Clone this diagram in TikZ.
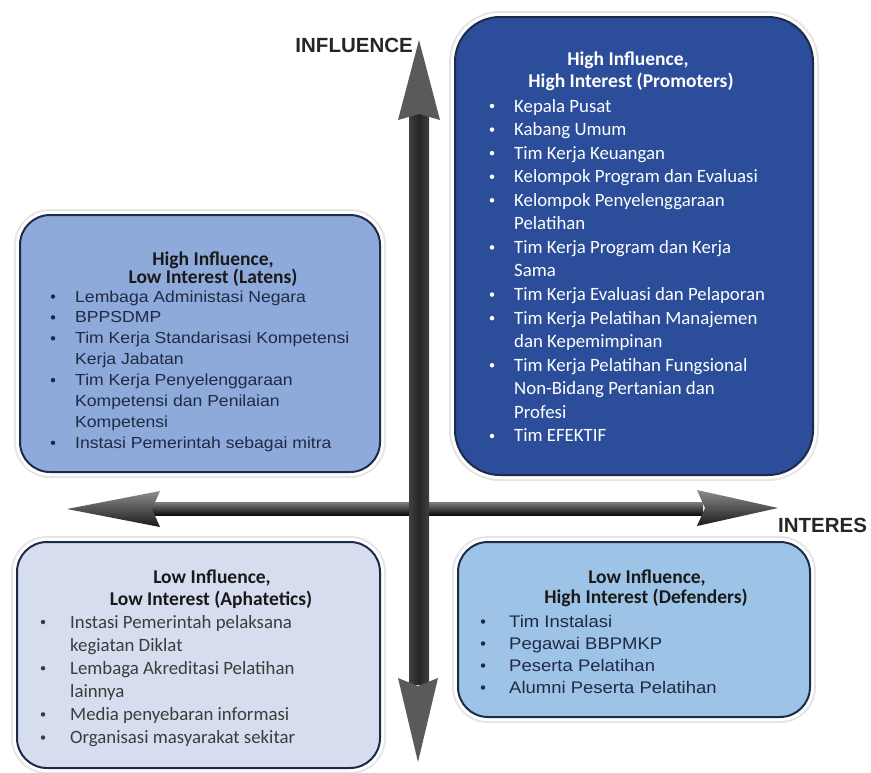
\documentclass[tikz,border=0pt]{standalone}
\usepackage{fontspec}
\setmainfont{Carlito}
\newfontfamily\arialf[FakeStretch=1.1]{Liberation Sans}
\newfontfamily\labelf{Liberation Sans}
\usetikzlibrary{calc}

\definecolor{promfill}{HTML}{2B4D9A}
\definecolor{latfill}{HTML}{8EAADB}
\definecolor{aphfill}{HTML}{D6DDEF}
\definecolor{deffill}{HTML}{9DC3E6}
\definecolor{boxline}{HTML}{1C2B4A}
\definecolor{headgray}{HTML}{5A5A5A}
\definecolor{shaftgray}{HTML}{262626}
\definecolor{darktext}{HTML}{1F2A44}
\definecolor{graytext}{HTML}{3C3C3C}

\tikzset{
  quadbox/.style={draw=boxline, line width=2pt, inner sep=0pt,
    preaction={draw=black!10, line width=12pt},
    preaction={draw=white, line width=8pt}},
  ttl/.style={anchor=base, inner sep=0pt, font=\bfseries\fontsize{19.5}{20}\selectfont},
  item/.style={anchor=base west, inner sep=0pt},
  dot/.style={circle, inner sep=0pt, minimum size=4.5pt},
  axislabel/.style={inner sep=0pt, font=\labelf\bfseries\fontsize{20.5}{22}\selectfont, text=black!85}
}

\begin{document}
\begin{tikzpicture}[x=1pt,y=-1pt]
\useasboundingbox[fill=white] (0,0) rectangle (871,772);

% axes
\coordinate (xL) at (67,509);
\coordinate (xR) at (778,508);
\coordinate (yTop) at (419,40);
\coordinate (yBot) at (418,762);

\shade[top color=black!50, bottom color=black!95] ($(xL)+(85,-7)$) rectangle ($(xR)+(-75,7)$);
\shade[top color=black!45, bottom color=black!90] (xL) -- ++(93,-18) -- ++(-8,18) -- ++(8,18) -- cycle;
\shade[top color=black!45, bottom color=black!90] (xR) -- ++(-81,-18) -- ++(8,18) -- ++(-8,18) -- cycle;

\shade[left color=black!75, right color=black!75, middle color=shaftgray] ($(yTop)+(-10,72)$) rectangle ($(yBot)+(11,-78)$);
\fill[headgray] (yTop) -- ++(-21,80) -- ++(21,-6) -- ++(21,6) -- cycle;
\fill[headgray] (yBot) -- ++(-20,-84) -- ++(20,8) -- ++(20,-8) -- cycle;

\node[axislabel, anchor=base east] (infl) at (413,52) {INFLUENCE};
\node[axislabel, anchor=base west] (intr) at (778,532) {INTERES};

% quadrants
\node[quadbox, fill=latfill, rounded corners=30pt, minimum width=360pt, minimum height=257pt] (lat) at (200,343.5) {};
\node[quadbox, fill=promfill, rounded corners=45pt, minimum width=358pt, minimum height=458pt] (prom) at (634,246) {};
\node[quadbox, fill=aphfill, rounded corners=30pt, minimum width=363pt, minimum height=226pt] (aph) at (198.5,655) {};
\node[quadbox, fill=deffill, rounded corners=30pt, minimum width=352pt, minimum height=175pt] (def) at (634,629.5) {};

% High Influence, Low Interest
\node[ttl, text=black!90] (lat-t1) at (213,265) {High Influence,};
\node[ttl, text=black!90] (lat-t2) at (213,283) {Low Interest (Latens)};
\foreach \b/\t [count=\i from 0] in {1/Lembaga Administasi Negara, 1/BPPSDMP,
    1/Tim Kerja Standarisasi Kompetensi, 0/Kerja Jabatan, 1/Tim Kerja Penyelenggaraan,
    0/Kompetensi dan Penilaian, 0/Kompetensi, 1/Instasi Pemerintah sebagai mitra}{
  \node[item, text=darktext, font=\arialf\fontsize{16}{20}\selectfont] (lat-\i) at (75,302+20.9*\i) {\t};
  \ifnum\b=1 \node[dot, fill=darktext] (lat-b\i) at (53,296.5+20.9*\i) {}; \fi
}

% High Influence, High Interest
\node[ttl, text=white] (prom-t1) at (628,65) {High Influence,};
\node[ttl, text=white] (prom-t2) at (631,87) {High Interest (Promoters)};
\foreach \b/\t [count=\i from 0] in {1/Kepala Pusat, 1/Kabang Umum, 1/Tim Kerja Keuangan,
    1/Kelompok Program dan Evaluasi, 1/Kelompok Penyelenggaraan, 0/Pelatihan,
    1/Tim Kerja Program dan Kerja, 0/Sama, 1/Tim Kerja Evaluasi dan Pelaporan,
    1/Tim Kerja Pelatihan Manajemen, 0/dan Kepemimpinan, 1/Tim Kerja Pelatihan Fungsional,
    0/Non-Bidang Pertanian dan, 0/Profesi, 1/Tim EFEKTIF}{
  \node[item, text=white, font=\fontsize{18.8}{23}\selectfont] (prom-\i) at (514,112+23.57*\i) {\t};
  \ifnum\b=1 \node[dot, fill=white] (prom-b\i) at (492,106+23.57*\i) {}; \fi
}

% Low Influence, Low Interest
\node[ttl, text=black!90] (aph-t1) at (212,583) {Low Influence,};
\node[ttl, text=black!90] (aph-t2) at (211,605) {Low Interest (Aphatetics)};
\foreach \b/\t [count=\i from 0] in {1/Instasi Pemerintah pelaksana, 0/kegiatan Diklat,
    1/Lembaga Akreditasi Pelatihan, 0/lainnya, 1/Media penyebaran informasi,
    1/Organisasi masyarakat sekitar}{
  \node[item, text=graytext, font=\fontsize{18.8}{23}\selectfont] (aph-\i) at (70,628+23.1*\i) {\t};
  \ifnum\b=1 \node[dot, fill=graytext] (aph-b\i) at (43,622+23.1*\i) {}; \fi
}

% Low Influence, High Interest
\node[ttl, text=black!90] (def-t1) at (647,583) {Low Influence,};
\node[ttl, text=black!90] (def-t2) at (646,603) {High Interest (Defenders)};
\foreach \t [count=\i from 0] in {Tim Instalasi, Pegawai BBPMKP, Peserta Pelatihan,
    Alumni Peserta Pelatihan}{
  \node[item, text=darktext, font=\arialf\fontsize{16.8}{22}\selectfont] (def-\i) at (509,627+22*\i) {\t};
  \node[dot, fill=darktext] (def-b\i) at (483,621.5+22*\i) {};
}
\end{tikzpicture}
\end{document}
